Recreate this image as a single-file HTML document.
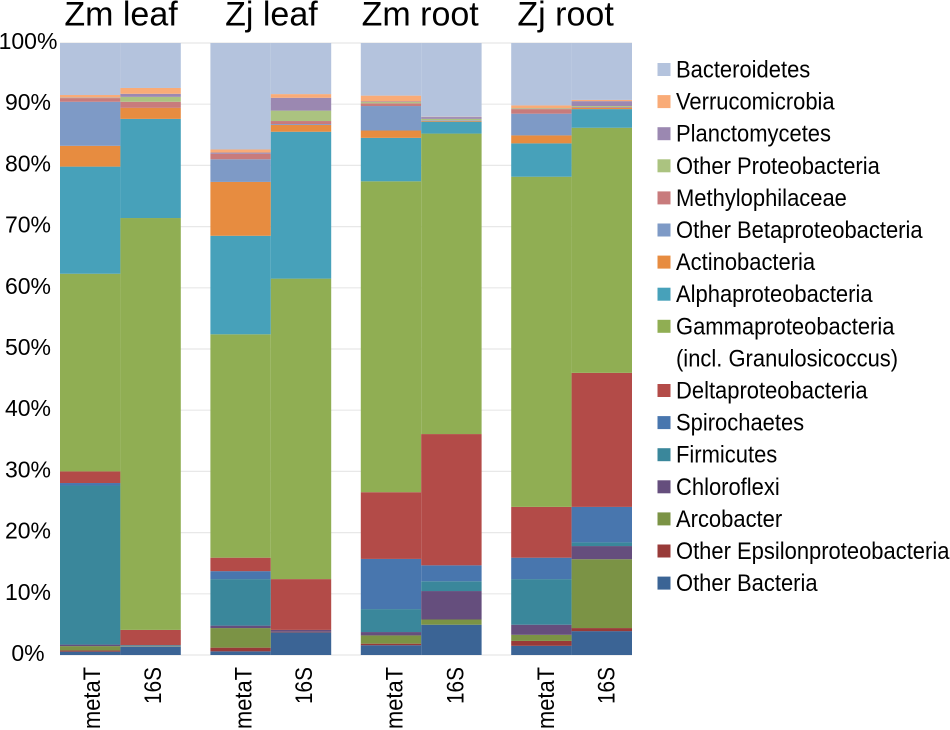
<!DOCTYPE html>
<html lang="en">
<head>
<meta charset="utf-8">
<title>Relative taxonomic composition</title>
<style>
html,body{margin:0;padding:0;background:#fff;}
svg{display:block;}
text{font-family:"Liberation Sans",Arial,sans-serif;fill:#000;}
</style>
</head>
<body>
<svg id="chart" width="950" height="730" viewBox="0 0 950 730" xmlns="http://www.w3.org/2000/svg"></svg>
<script>
const groups = ['Zm leaf', 'Zj leaf', 'Zm root', 'Zj root'];
const samples = ['metaT', '16S'];
const yTicks = [0, 10, 20, 30, 40, 50, 60, 70, 80, 90, 100];

const otherBacteria = [0.55, 1.35, 0.6, 3.7, 1.6, 4.95, 1.5, 3.9];
const otherEpsilon = [0.2, 0, 0.6, 0.1, 0.25, 0, 0.8, 0.5];
const arcobacter = [0.7, 0.05, 3.2, 0, 1.35, 0.85, 1.0, 11.25];
const chloroflexi = [0.25, 0.05, 0.4, 0.3, 0.55, 4.65, 1.65, 2.15];
const firmicutes = [26, 0.15, 7.6, 0, 3.75, 1.6, 7.45, 0.6];
const spirochaetes = [0.4, 0, 1.3, 0, 8.2, 2.6, 3.5, 5.8];
const deltaproteo = [1.9, 2.5, 2.2, 8.3, 10.9, 21.45, 8.3, 21.9];
const gammaproteo = [32.3, 67.3, 36.5, 49.1, 50.8, 49.1, 53.95, 40.05];
const alphaproteo = [17.5, 16.2, 16.1, 24, 7.1, 1.95, 5.45, 3.05];
const actinobacteria = [3.4, 1.8, 8.8, 1.1, 1.2, 0.15, 1.3, 0.2];
const otherBeta = [7.2, 0, 3.7, 0.15, 4, 0.1, 3.55, 0.05];
const methylophilaceae = [0.6, 1.0, 0.9, 0.5, 0.45, 0, 0.75, 0.1];
const otherProteo = [0.05, 0.8, 0, 1.7, 0.2, 0.2, 0.1, 0.15];
const planctomycetes = [0.05, 0.5, 0.2, 2.1, 0.1, 0.3, 0.05, 0.8];
const verrucomicrobia = [0.4, 0.95, 0.5, 0.6, 0.95, 0.05, 0.45, 0.2];
const bacteroidetes = [8.5, 7.35, 17.4, 8.35, 8.6, 12.05, 10.2, 9.3];

const seriesValues = [otherBacteria, otherEpsilon, arcobacter, chloroflexi, firmicutes, spirochaetes, deltaproteo, gammaproteo, alphaproteo, actinobacteria, otherBeta, methylophilaceae, otherProteo, planctomycetes, verrucomicrobia, bacteroidetes];
const seriesNames = ['Other Bacteria', 'Other Epsilonproteobacteria', 'Arcobacter', 'Chloroflexi', 'Firmicutes', 'Spirochaetes', 'Deltaproteobacteria', 'Gammaproteobacteria|(incl. Granulosicoccus)', 'Alphaproteobacteria', 'Actinobacteria', 'Other Betaproteobacteria', 'Methylophilaceae', 'Other Proteobacteria', 'Planctomycetes', 'Verrucomicrobia', 'Bacteroidetes'];
const seriesColors = ['#3b6495', '#983a38', '#7b9345', '#654e7d', '#3a879b', '#4876ae', '#b34b48', '#90ae53', '#47a1ba', '#e78c40', '#7e9ac6', '#c87b7c', '#abc380', '#9b88b1', '#f9ab77', '#b4c3dd'];

const NS = 'http://www.w3.org/2000/svg';
const svg = document.getElementById('chart');
const plot = {left: 60, top: 43, bottom: 655, right: 632, barW: 60.4, pitch: 150.4};

function yScale(v) {
  return plot.bottom - (v / 100) * (plot.bottom - plot.top);
}
function xScale(barIndex) {
  const group = Math.floor(barIndex / samples.length);
  return plot.left + group * plot.pitch + (barIndex % samples.length) * plot.barW;
}
function make(tag, attrs, text) {
  const el = document.createElementNS(NS, tag);
  for (const k in attrs) el.setAttribute(k, attrs[k]);
  if (text !== undefined) el.textContent = text;
  svg.appendChild(el);
  return el;
}
function slug(s) {
  return s.split('|')[0].toLowerCase().replace(/[^a-z0-9]+/g, '-').replace(/^-|-$/g, '');
}

yTicks.forEach(function (t) {
  const line = make('line', {x1: plot.left, x2: plot.right, y1: yScale(t), y2: yScale(t), stroke: '#e8e8e8', 'stroke-width': 1.2});
  
  
  const label = make('text', {x: 28, y: yScale(t) + 6, 'text-anchor': 'middle', 'font-size': 23}, t + '%');
  
  
});

const barCount = groups.length * samples.length;
for (let b = 0; b < barCount; b++) {
  let cum = 0;
  const barName = slug(groups[Math.floor(b / samples.length)]) + '-' + slug(samples[b % samples.length]);
  seriesValues.forEach(function (values, s) {
    const v = values[b];
    const y1 = yScale(cum);
    const y2 = yScale(cum + v);
    cum += v;
    if (v <= 0) return;
    const rect = make('rect', {x: xScale(b), y: y2, width: plot.barW, height: y1 - y2, fill: seriesColors[s]});
    
    
  });
  const cx = xScale(b) + plot.barW / 2 + 10 + b * 0.4;
  const sample = samples[b % samples.length];
  const tick = make('text', {x: cx, y: 667, 'text-anchor': 'end', 'font-size': 24, textLength: sample.length > 3 ? 62 : 37, lengthAdjust: 'spacingAndGlyphs', transform: 'rotate(-90 ' + cx + ' 667)'}, sample);
  
  
}

groups.forEach(function (g, i) {
  const cx = xScale(i * samples.length) + plot.barW + (i < 2 ? 0.6 : -1 - (i - 2) * 5);
  const title = make('text', {x: cx, y: 25.5, 'text-anchor': 'middle', 'font-size': 34}, g);
  
  
});

let row = 0;
for (let s = seriesNames.length - 1; s >= 0; s--) {
  const lines = seriesNames[s].split('|');
  const cy = 69.5 + row * 32.1;
  const swatch = make('rect', {x: 657.5, y: cy - 6.5, width: 13, height: 13, fill: seriesColors[s]});
  
  
  lines.forEach(function (line) {
    const ly = 69.5 + row * 32.1 + 8;
    const label = make('text', {x: 0, y: 0, 'font-size': 24, transform: 'translate(676 ' + ly + ') scale(0.915 1)'}, line);
    
    
    row++;
  });
}
</script>
</body>
</html>
